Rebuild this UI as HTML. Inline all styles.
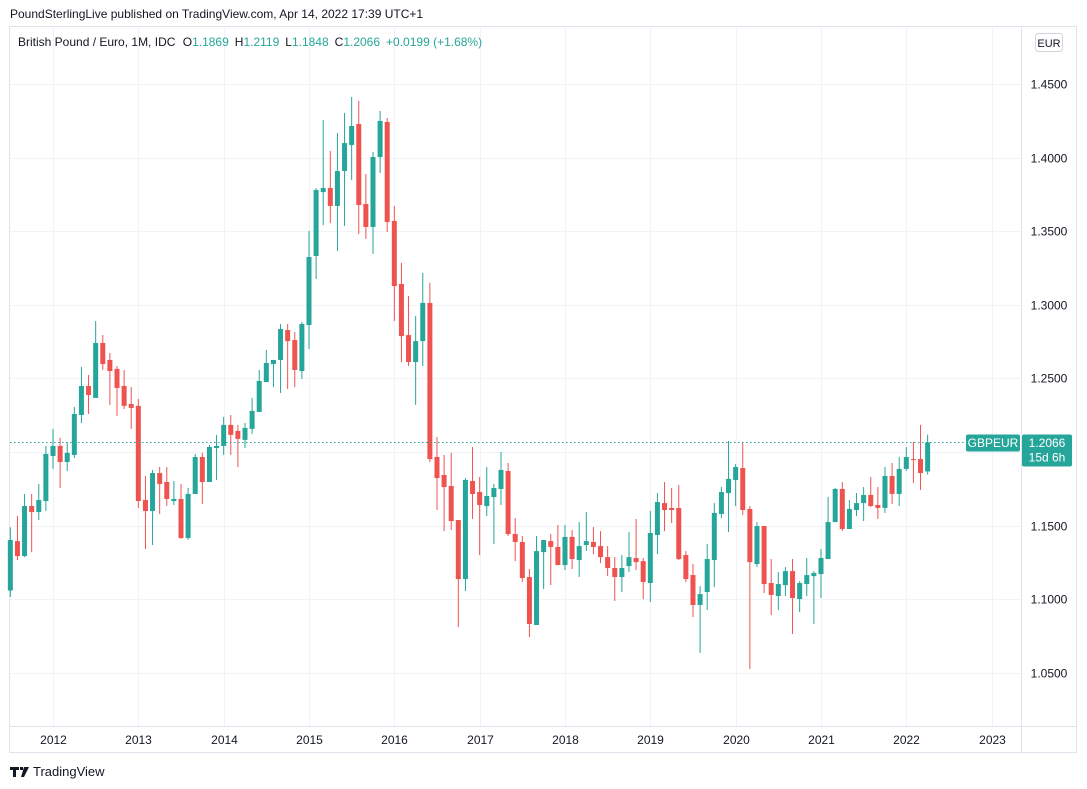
<!DOCTYPE html>
<html><head><meta charset="utf-8">
<style>
body{margin:0;background:#fff;width:1087px;height:789px;overflow:hidden;font-family:"Liberation Sans","DejaVu Sans",sans-serif;}
svg{position:absolute;left:0;top:0;}
</style></head>
<body>
<svg id="chart" width="1087" height="789">
  <text x="10" y="18" font-size="12" fill="#131722">PoundSterlingLive published on TradingView.com, Apr 14, 2022 17:39 UTC+1</text>
  <rect x="9.5" y="26.5" width="1067" height="726" fill="#fff" stroke="#e0e3eb"/>
  <g id="grid"></g>
  <line x1="1021.5" y1="27" x2="1021.5" y2="752" stroke="#e0e3eb"/>
  <line x1="10" y1="726.5" x2="1076" y2="726.5" stroke="#e0e3eb"/>
  <g id="candles"></g>
  <g id="yticks"></g>
  <g id="xticks"></g>
  <text x="18" y="46" font-size="12" fill="#131722">British Pound / Euro, 1M, IDC <tspan dx="4">O</tspan><tspan fill="#26a69a">1.1869</tspan><tspan dx="6">H</tspan><tspan fill="#26a69a">1.2119</tspan><tspan dx="6">L</tspan><tspan fill="#26a69a">1.1848</tspan><tspan dx="6">C</tspan><tspan fill="#26a69a">1.2066</tspan><tspan dx="6" fill="#26a69a">+0.0199 (+1.68%)</tspan></text>
  <rect x="1035.5" y="33.5" width="27" height="18" rx="3" fill="#fff" stroke="#d1d4dc"/>
  <text x="1049" y="47" font-size="11" fill="#131722" text-anchor="middle">EUR</text>
  <line id="lastline" x1="10" x2="966" stroke="#26a69a" stroke-dasharray="1.5,2.5"/>
  <g id="lastlabel"></g>
  <g>
    <path d="M10 767h9v3h-3v7h-3v-7h-3z M20 767h3v3h-3z M24 767h5l-5 10h-3z" fill="#131722"/>
    <text x="33" y="776" font-size="13" fill="#131722">TradingView</text>
  </g>
</svg>
<script>
const opens=[1.106,1.1396,1.1294,1.1634,1.1593,1.1668,1.1974,1.2042,1.1933,1.1981,1.2252,1.2449,1.2368,1.2741,1.2626,1.2565,1.2449,1.2327,1.2314,1.1675,1.1600,1.1858,1.1797,1.1668,1.1682,1.1417,1.1716,1.1967,1.1797,1.2028,1.2042,1.2185,1.2144,1.2083,1.2158,1.2273,1.2476,1.2598,1.2626,1.2829,1.2761,1.2551,1.2863,1.3332,1.3766,1.3794,1.3672,1.3909,1.4086,1.4228,1.3685,1.3529,1.4004,1.4242,1.3570,1.3142,1.2795,1.2612,1.2754,1.3013,1.1967,1.1845,1.1770,1.1539,1.1138,1.1804,1.1729,1.1634,1.1695,1.1750,1.1872,1.1444,1.1390,1.1152,1.0826,1.1321,1.1396,1.1356,1.1233,1.1424,1.1267,1.1369,1.1390,1.1362,1.1287,1.1213,1.1152,1.1226,1.1281,1.1260,1.1111,1.1437,1.1654,1.1621,1.1621,1.1301,1.1165,1.0962,1.1050,1.1267,1.1580,1.1722,1.1811,1.1892,1.1614,1.1240,1.1498,1.1111,1.1023,1.1097,1.1192,1.1002,1.1104,1.1158,1.1172,1.1274,1.1525,1.1750,1.1478,1.1607,1.1654,1.1709,1.1641,1.1621,1.1838,1.1716,1.1886,1.1953,1.1953,1.1869];
const highs=[1.149,1.1566,1.1716,1.1716,1.1784,1.2042,1.2158,1.2097,1.2069,1.2307,1.2578,1.2524,1.2890,1.2795,1.2673,1.2585,1.2558,1.2442,1.2361,1.1838,1.1879,1.1899,1.1899,1.1804,1.1784,1.1756,1.1988,1.1995,1.2049,1.2117,1.2239,1.2252,1.2185,1.2198,1.2368,1.2558,1.2694,1.2626,1.2870,1.2870,1.2816,1.2884,1.3502,1.3794,1.4255,1.4045,1.4167,1.4303,1.4412,1.4385,1.3889,1.4038,1.4317,1.4269,1.3672,1.3285,1.3060,1.2924,1.3217,1.3149,1.2103,1.1981,1.1995,1.1539,1.1824,1.2035,1.1831,1.1899,1.1784,1.2001,1.1926,1.1552,1.1430,1.1206,1.1430,1.1403,1.1444,1.1505,1.1505,1.1471,1.1525,1.1593,1.1491,1.1464,1.1362,1.1287,1.1301,1.1457,1.1546,1.1281,1.1600,1.1722,1.1797,1.1756,1.1777,1.1328,1.1240,1.1090,1.1376,1.1654,1.1763,1.2076,1.1920,1.2069,1.1634,1.1525,1.1498,1.1274,1.1186,1.1219,1.1274,1.1124,1.1281,1.1192,1.1342,1.1696,1.1756,1.1797,1.1675,1.1722,1.1763,1.1831,1.1763,1.1899,1.1926,1.1967,1.2035,1.2069,1.2185,1.2119];
const lows=[1.1016,1.1267,1.1287,1.1321,1.1539,1.1600,1.1886,1.1756,1.1872,1.1960,1.2198,1.2259,1.2368,1.2558,1.2321,1.2246,1.2293,1.2158,1.1621,1.1342,1.1369,1.1580,1.1634,1.1641,1.1410,1.1403,1.1716,1.1648,1.1797,1.1811,1.1981,1.1981,1.1899,1.2028,1.2124,1.2273,1.2476,1.2442,1.2402,1.2429,1.2442,1.2497,1.2700,1.3176,1.3542,1.3556,1.3366,1.3536,1.3848,1.3481,1.3448,1.3346,1.3895,1.3495,1.2890,1.2612,1.2585,1.2321,1.2585,1.1933,1.1607,1.1464,1.1471,1.0812,1.1057,1.1546,1.1301,1.1566,1.1376,1.1641,1.1430,1.1260,1.1118,1.0744,1.0826,1.1070,1.1097,1.1233,1.1199,1.1206,1.1152,1.1328,1.1308,1.1247,1.1158,1.0989,1.1050,1.1186,1.1199,1.1002,1.0982,1.1308,1.1464,1.1519,1.1267,1.1118,1.0880,1.0636,1.0928,1.1084,1.1552,1.1457,1.1634,1.1573,1.0527,1.1219,1.1043,1.0894,1.0928,1.1023,1.0765,1.0914,1.1023,1.0833,1.1009,1.1274,1.1525,1.1464,1.1478,1.1566,1.1532,1.1627,1.1546,1.1587,1.1648,1.1634,1.1872,1.1790,1.1743,1.1848];
const closes=[1.1403,1.1294,1.1634,1.1593,1.1675,1.1988,1.2042,1.1933,1.1995,1.2259,1.2449,1.2388,1.2741,1.2598,1.2551,1.2436,1.2314,1.2300,1.1668,1.1600,1.1858,1.1784,1.1682,1.1682,1.1417,1.1716,1.1967,1.1797,1.2035,1.2042,1.2185,1.2117,1.2090,1.2164,1.2280,1.2483,1.2605,1.2626,1.2836,1.2754,1.2558,1.2870,1.3325,1.3780,1.3794,1.3672,1.3909,1.4099,1.4215,1.3678,1.3529,1.4004,1.4249,1.3563,1.3128,1.2788,1.2612,1.2754,1.3013,1.1953,1.1824,1.1763,1.1532,1.1138,1.1811,1.1716,1.1641,1.1702,1.1756,1.1879,1.1444,1.1390,1.1145,1.0833,1.1328,1.1403,1.1356,1.1233,1.1424,1.1274,1.1362,1.1396,1.1356,1.1287,1.1213,1.1152,1.1213,1.1287,1.1253,1.1118,1.1451,1.1661,1.1607,1.1607,1.1274,1.1138,1.0962,1.1036,1.1274,1.1587,1.1729,1.1818,1.1899,1.1607,1.1253,1.1498,1.1104,1.1030,1.1104,1.1192,1.1009,1.1111,1.1165,1.1179,1.1281,1.1525,1.1750,1.1478,1.1614,1.1654,1.1709,1.1634,1.1621,1.1838,1.1716,1.1886,1.1967,1.1947,1.1858,1.2066];
const firstMonth=2011+6/12; // Jul 2011
const priceTicks=[1.05,1.10,1.15,1.20,1.25,1.30,1.35,1.40,1.45];
const yearTicks=[2012,2013,2014,2015,2016,2017,2018,2019,2020,2021,2022,2023];
const lastPrice=1.2066;

const NS="http://www.w3.org/2000/svg";
function yS(v){return 84+(1.45-v)*1472.5;}
function xS(t){return 53+(t-2012)*85.33;}
function mk(tag,attrs,parent){const e=document.createElementNS(NS,tag);for(const k in attrs)e.setAttribute(k,attrs[k]);parent.appendChild(e);return e;}
const grid=document.getElementById('grid'),cg=document.getElementById('candles'),yt=document.getElementById('yticks'),xt=document.getElementById('xticks');
priceTicks.forEach(v=>{
  const y=Math.round(yS(v))+0.5;
  const l=mk('line',{x1:10,x2:1021,y1:y,y2:y,stroke:'#f0f3fa'},grid);
  
  
  const t=mk('text',{x:1049,y:y+4,'font-size':12,fill:'#131722','text-anchor':'middle'},yt);
  t.textContent=v.toFixed(4);
  
  
});
yearTicks.forEach(yr=>{
  const x=Math.round(xS(yr))+0.5;
  const l=mk('line',{x1:x,x2:x,y1:27,y2:726,stroke:'#f0f3fa'},grid);
  
  
  const t=mk('text',{x:x,y:744,'font-size':12,fill:'#131722','text-anchor':'middle'},xt);
  t.textContent=yr;
  
  
});
for(let i=0;i<opens.length;i++){
  const o=opens[i],h=highs[i],lo=lows[i],c=closes[i];
  const col=c>=o?'#26a69a':'#ef5350';
  const x=xS(firstMonth+i/12);
  const g=mk('g',{},cg);
  
  
  mk('line',{x1:x,x2:x,y1:yS(h),y2:yS(lo),stroke:col,'stroke-width':1},g);
  const top=yS(Math.max(o,c)),bot=yS(Math.min(o,c));
  mk('rect',{x:x-2.5,y:top,width:5,height:Math.max(1,bot-top),fill:col},g);
}
const ly=Math.round(yS(lastPrice))+0.5;
const ll=document.getElementById('lastline');ll.setAttribute('y1',ly);ll.setAttribute('y2',ly);
const lg=document.getElementById('lastlabel');
mk('rect',{x:966,y:ly-8,width:54,height:17,rx:2,fill:'#26a69a'},lg);
const t1=mk('text',{x:993,y:ly+4.5,'font-size':12,fill:'#fff','text-anchor':'middle'},lg);t1.textContent='GBPEUR';


mk('rect',{x:1022,y:ly-8,width:50,height:32,rx:2,fill:'#26a69a'},lg);
const t2=mk('text',{x:1047,y:ly+4.5,'font-size':12,fill:'#fff','text-anchor':'middle'},lg);t2.textContent=lastPrice.toFixed(4);


const t3=mk('text',{x:1047,y:ly+19,'font-size':12,fill:'#fff','text-anchor':'middle'},lg);t3.textContent='15d 6h';


</script>
</body></html>
